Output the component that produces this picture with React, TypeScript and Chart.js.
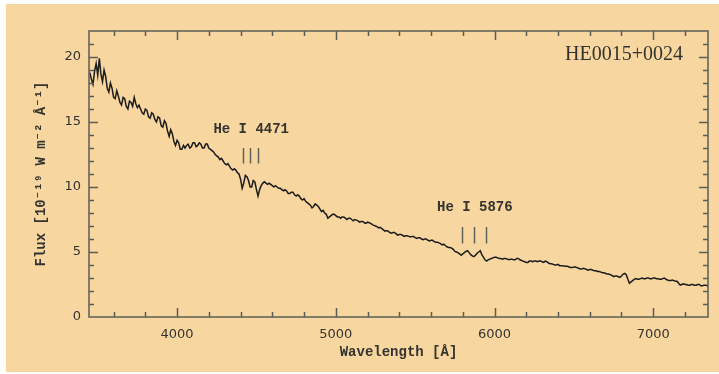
import React, { useEffect, useRef } from 'react';
import { Chart, registerables } from 'chart.js';

Chart.register(...registerables);

// Wavelength grid [Å]
const WAVELENGTH = [
  3450, 3460, 3470, 3480, 3490, 3500, 3510, 3520, 3530, 3540,
  3550, 3560, 3570, 3580, 3590, 3600, 3610, 3620, 3630, 3640,
  3650, 3660, 3670, 3680, 3690, 3700, 3710, 3720, 3730, 3740,
  3750, 3760, 3770, 3780, 3790, 3800, 3810, 3820, 3830, 3840,
  3850, 3860, 3870, 3880, 3890, 3900, 3910, 3920, 3930, 3940,
  3950, 3960, 3970, 3980, 3990, 4000, 4010, 4020, 4030, 4040,
  4050, 4060, 4070, 4080, 4090, 4100, 4110, 4120, 4130, 4140,
  4150, 4160, 4170, 4180, 4190, 4200, 4210, 4220, 4230, 4240,
  4250, 4260, 4270, 4280, 4290, 4300, 4310, 4320, 4330, 4340,
  4350, 4360, 4370, 4380, 4390, 4400, 4410, 4420, 4430, 4440,
  4450, 4460, 4470, 4480, 4490, 4500, 4510, 4520, 4530, 4540,
  4550, 4560, 4570, 4580, 4590, 4600, 4610, 4620, 4630, 4640,
  4650, 4660, 4670, 4680, 4690, 4700, 4710, 4720, 4730, 4740,
  4750, 4760, 4770, 4780, 4790, 4800, 4810, 4820, 4830, 4840,
  4850, 4860, 4870, 4880, 4890, 4900, 4910, 4920, 4930, 4940,
  4950, 4960, 4970, 4980, 4990, 5000, 5010, 5020, 5030, 5040,
  5050, 5060, 5070, 5080, 5090, 5100, 5110, 5120, 5130, 5140,
  5150, 5160, 5170, 5180, 5190, 5200, 5210, 5220, 5230, 5240,
  5250, 5260, 5270, 5280, 5290, 5300, 5310, 5320, 5330, 5340,
  5350, 5360, 5370, 5380, 5390, 5400, 5410, 5420, 5430, 5440,
  5450, 5460, 5470, 5480, 5490, 5500, 5510, 5520, 5530, 5540,
  5550, 5560, 5570, 5580, 5590, 5600, 5610, 5620, 5630, 5640,
  5650, 5660, 5670, 5680, 5690, 5700, 5710, 5720, 5730, 5740,
  5750, 5760, 5770, 5780, 5790, 5800, 5810, 5820, 5830, 5840,
  5850, 5860, 5870, 5880, 5890, 5900, 5910, 5920, 5930, 5940,
  5950, 5960, 5970, 5980, 5990, 6000, 6010, 6020, 6030, 6040,
  6050, 6060, 6070, 6080, 6090, 6100, 6110, 6120, 6130, 6140,
  6150, 6160, 6170, 6180, 6190, 6200, 6210, 6220, 6230, 6240,
  6250, 6260, 6270, 6280, 6290, 6300, 6310, 6320, 6330, 6340,
  6350, 6360, 6370, 6380, 6390, 6400, 6410, 6420, 6430, 6440,
  6450, 6460, 6470, 6480, 6490, 6500, 6510, 6520, 6530, 6540,
  6550, 6560, 6570, 6580, 6590, 6600, 6610, 6620, 6630, 6640,
  6650, 6660, 6670, 6680, 6690, 6700, 6710, 6720, 6730, 6740,
  6750, 6760, 6770, 6780, 6790, 6800, 6810, 6820, 6830, 6840,
  6850, 6860, 6870, 6880, 6890, 6900, 6910, 6920, 6930, 6940,
  6950, 6960, 6970, 6980, 6990, 7000, 7010, 7020, 7030, 7040,
  7050, 7060, 7070, 7080, 7090, 7100, 7110, 7120, 7130, 7140,
  7150, 7160, 7170, 7180, 7190, 7200, 7210, 7220, 7230, 7240,
  7250, 7260, 7270, 7280, 7290, 7300, 7310, 7320, 7330, 7340, 7350,
];

// Flux [10^-19 W m^-2 Å^-1]
const FLUX = [
  18.8, 18.3, 17.9, 18.9, 19.5, 18.6, 19.9, 18.7, 18.1, 19.0,
  18.5, 17.6, 17.3, 18.0, 17.6, 16.9, 16.8, 17.4, 17.0, 16.5,
  16.3, 16.9, 16.8, 16.2, 16.0, 16.6, 16.5, 16.2, 16.9, 16.4,
  16.1, 16.3, 16.0, 15.7, 15.6, 16.0, 15.9, 15.4, 15.3, 15.7,
  15.6, 15.2, 15.0, 15.4, 15.3, 14.7, 14.6, 15.1, 14.9, 14.3,
  13.9, 14.4, 14.1, 13.5, 13.2, 13.6, 13.4, 12.9, 12.9, 13.2,
  13.0, 13.2, 13.3, 13.0, 13.1, 13.4, 13.4, 13.1, 13.2, 13.4,
  13.3, 13.0, 13.0, 13.3, 13.3, 13.0, 12.9, 12.8, 12.7, 12.5,
  12.4, 12.3, 12.1, 12.2, 12.0, 11.8, 11.7, 11.8, 11.6, 11.4,
  11.3, 11.4, 11.3, 11.1, 11.0, 10.6, 9.9, 10.3, 10.9, 10.8,
  10.5, 10.0, 10.0, 10.5, 10.4, 9.8, 9.3, 9.8, 10.1, 10.3,
  10.4, 10.3, 10.2, 10.3, 10.2, 10.1, 10.0, 10.1, 10.0, 9.9,
  9.9, 9.8, 9.7, 9.8, 9.7, 9.5, 9.5, 9.6, 9.6, 9.4,
  9.3, 9.4, 9.3, 9.1, 9.0, 9.1, 8.9, 8.8, 8.7, 8.6,
  8.4, 8.5, 8.7, 8.6, 8.5, 8.3, 8.1, 8.2, 8.0, 7.9,
  7.6, 7.7, 7.8, 7.9, 7.9, 7.8, 7.7, 7.7, 7.6, 7.7,
  7.7, 7.6, 7.5, 7.6, 7.6, 7.5, 7.4, 7.5, 7.45, 7.4,
  7.3, 7.35, 7.35, 7.25, 7.2, 7.3, 7.25, 7.2, 7.1, 7.05,
  7.0, 6.95, 6.85, 6.9, 6.8, 6.7, 6.6, 6.65, 6.6, 6.5,
  6.45, 6.5, 6.5, 6.4, 6.3, 6.35, 6.35, 6.3, 6.2, 6.25,
  6.25, 6.2, 6.15, 6.2, 6.2, 6.1, 6.05, 6.1, 6.1, 6.0,
  5.95, 6.0, 6.0, 5.9, 5.85, 5.9, 5.9, 5.8, 5.75, 5.75,
  5.7, 5.65, 5.55, 5.6, 5.5, 5.4, 5.35, 5.35, 5.3, 5.2,
  5.05, 5.0, 4.95, 4.85, 4.75, 4.85, 4.95, 5.05, 5.1, 4.95,
  4.8, 4.7, 4.65, 4.75, 4.9, 5.0, 5.1, 4.8, 4.6, 4.4,
  4.3, 4.4, 4.45, 4.5, 4.55, 4.6, 4.6, 4.55, 4.5, 4.5,
  4.45, 4.5, 4.5, 4.45, 4.4, 4.45, 4.45, 4.4, 4.4, 4.5,
  4.5, 4.4, 4.35, 4.3, 4.25, 4.2, 4.2, 4.3, 4.3, 4.25,
  4.3, 4.3, 4.25, 4.3, 4.3, 4.25, 4.2, 4.3, 4.25, 4.15,
  4.1, 4.1, 4.05, 4.0, 4.0, 4.05, 3.95, 3.95, 3.95, 3.9,
  3.9, 3.9, 3.85, 3.8, 3.8, 3.85, 3.85, 3.8, 3.75, 3.7,
  3.7, 3.75, 3.7, 3.65, 3.6, 3.65, 3.65, 3.6, 3.55, 3.55,
  3.5, 3.5, 3.45, 3.4, 3.4, 3.35, 3.3, 3.3, 3.25, 3.2,
  3.1, 3.15, 3.15, 3.1, 3.05, 3.15, 3.3, 3.35, 3.25, 2.9,
  2.6, 2.7, 2.8, 2.9, 2.95, 2.9, 2.9, 2.95, 3.0, 2.95,
  2.95, 3.0, 3.0, 2.95, 2.95, 3.0, 3.0, 2.95, 2.95, 2.9,
  2.9, 2.95, 3.0, 2.9, 2.85, 2.8, 2.8, 2.85, 2.8, 2.75,
  2.75, 2.6, 2.45, 2.5, 2.55, 2.5, 2.5, 2.45, 2.45, 2.5,
  2.5, 2.45, 2.45, 2.5, 2.5, 2.4, 2.4, 2.45, 2.45, 2.4, 2.4,
];

const X_TICKS = [4000, 5000, 6000, 7000];
const Y_TICKS = [0, 5, 10, 15, 20];
const X_MIN = 3445;
const X_MAX = 7345;
const Y_MIN = 0;
const Y_MAX = 22;

const OBJECT_NAME = 'HE0015+0024';
const LINE_LABELS = ['He I 4471', 'He I 5876'];
const LINE_LABEL_WAVE = [4467, 5876];
const LINE_LABEL_FLUX = [14.45, 8.45];
const LINE_MARKS = [
  [4415, 4462, 4510],
  [5792, 5870, 5945],
];
const LINE_MARK_LOW = [11.8, 5.65];
const LINE_MARK_HIGH = [13.0, 6.92];

const BEIGE = '#f8d6a0';
const AXIS = '#5a5d56';
const TEXT = '#333330';
const MONO = '"Liberation Mono", "DejaVu Sans Mono", monospace';

const framePlugin = {
  id: 'frameTicks',
  afterDraw(chart: any) {
    const { ctx, chartArea, scales } = chart;
    const { left, right, top, bottom } = chartArea;
    const x = scales.x;
    const y = scales.y;
    ctx.save();
    ctx.strokeStyle = AXIS;
    ctx.lineWidth = 1.5;
    ctx.strokeRect(left, top, right - left, bottom - top);
    ctx.beginPath();
    for (let v = Math.ceil(x.min / 200) * 200; v <= x.max; v += 200) {
      const px = Math.round(x.getPixelForValue(v)) + 0.5;
      const len = v % 1000 === 0 ? 9 : 5;
      ctx.moveTo(px, bottom);
      ctx.lineTo(px, bottom - len);
      ctx.moveTo(px, top);
      ctx.lineTo(px, top + len);
    }
    for (let v = Math.ceil(y.min) + 1; v < y.max; v += 1) {
      const py = Math.round(y.getPixelForValue(v)) + 0.5;
      const len = v % 5 === 0 ? 9 : 5;
      ctx.moveTo(left, py);
      ctx.lineTo(left + len, py);
      ctx.moveTo(right, py);
      ctx.lineTo(right - len, py);
    }
    ctx.stroke();

    // line identification marks
    ctx.lineWidth = 1.4;
    ctx.beginPath();
    LINE_MARKS.forEach((marks, i) => {
      marks.forEach((w) => {
        const px = Math.round(x.getPixelForValue(w)) + 0.5;
        ctx.moveTo(px, y.getPixelForValue(LINE_MARK_LOW[i]));
        ctx.lineTo(px, y.getPixelForValue(LINE_MARK_HIGH[i]));
      });
    });
    ctx.stroke();

    ctx.fillStyle = TEXT;
    ctx.font = 'bold 14px ' + MONO;
    ctx.textAlign = 'center';
    ctx.textBaseline = 'middle';
    LINE_LABELS.forEach((t, i) => {
      ctx.fillText(t, x.getPixelForValue(LINE_LABEL_WAVE[i]), y.getPixelForValue(LINE_LABEL_FLUX[i]));
    });

    ctx.font = '20px "Liberation Serif", "DejaVu Serif", serif';
    ctx.textAlign = 'right';
    ctx.fillText(OBJECT_NAME, right - 25, top + 24);
    ctx.restore();
  },
};

export default function App() {
  const canvasRef = useRef<HTMLCanvasElement | null>(null);

  useEffect(() => {
    const canvas = canvasRef.current;
    if (!canvas) return;
    const chart = new Chart(canvas, {
      type: 'line',
      data: {
        datasets: [
          {
            data: WAVELENGTH.map((w, i) => ({ x: w, y: FLUX[i] })),
            borderColor: '#1c1c1c',
            borderWidth: 1.5,
            pointRadius: 0,
            tension: 0,
            fill: false,
          },
        ],
      },
      options: {
        responsive: false,
        animation: false,
        devicePixelRatio: 1,
        layout: { padding: { top: 31, right: 11, left: 0, bottom: 0 } },
        plugins: {
          legend: { display: false },
          tooltip: { enabled: false },
        },
        scales: {
          x: {
            type: 'linear',
            min: X_MIN,
            max: X_MAX,
            grid: { display: false, drawTicks: false },
            border: { display: false },
            afterBuildTicks: (scale: any) => {
              scale.ticks = X_TICKS.map((v) => ({ value: v }));
            },
            afterFit: (scale: any) => {
              scale.height = 57;
            },
            ticks: {
              padding: 10,
              color: TEXT,
              font: { family: '"DejaVu Sans", sans-serif', size: 13 },
              maxRotation: 0,
              callback: (v: any) => String(v),
            },
            title: {
              display: true,
              text: 'Wavelength [Å]',
              color: TEXT,
              font: { family: MONO, size: 14, weight: 'bold' },
              padding: { top: 0, bottom: 13.6 },
            },
          },
          y: {
            type: 'linear',
            min: Y_MIN,
            max: Y_MAX,
            grid: { display: false, drawTicks: false },
            border: { display: false },
            afterBuildTicks: (scale: any) => {
              scale.ticks = Y_TICKS.map((v) => ({ value: v }));
            },
            afterFit: (scale: any) => {
              scale.width = 89;
            },
            ticks: {
              padding: 8,
              color: TEXT,
              font: { family: '"DejaVu Sans", sans-serif', size: 13 },
              callback: (v: any) => String(v),
            },
            title: {
              display: true,
              text: 'Flux [10⁻¹⁹ W m⁻² Å⁻¹]',
              color: TEXT,
              font: { family: MONO, size: 14, weight: 'bold' },
              padding: { top: 32.6, bottom: 0 },
            },
          },
        },
      },
      plugins: [framePlugin],
    });
    return () => chart.destroy();
  }, []);

  return (
    <div style={{ position: 'fixed', left: 0, top: 0, width: 719, height: 374, background: '#ffffff' }}>
      <div style={{ position: 'absolute', left: 6, top: 4, right: 0, bottom: 2, background: BEIGE }} />
      <canvas ref={canvasRef} width={719} height={374} style={{ position: 'absolute', left: 0, top: 0 }} />
    </div>
  );
}
